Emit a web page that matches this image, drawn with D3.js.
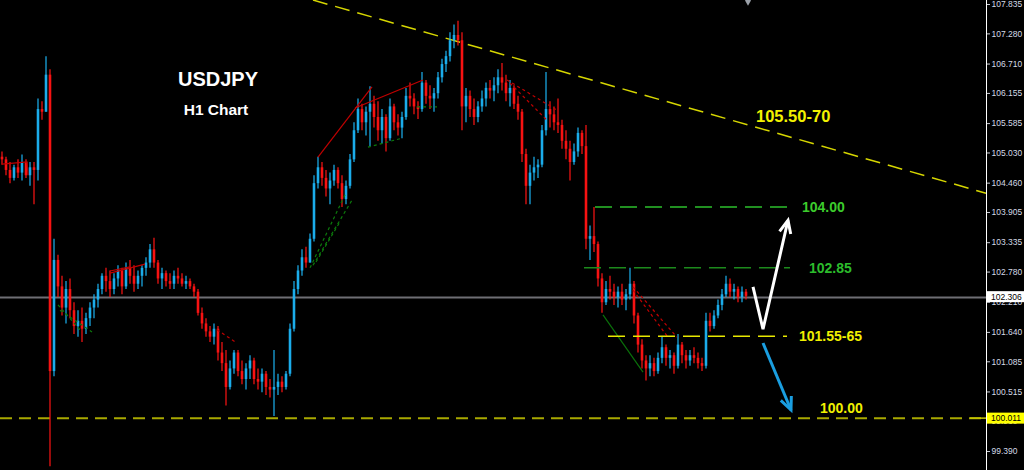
<!DOCTYPE html>
<html><head><meta charset="utf-8">
<script src="https://cdn.jsdelivr.net/npm/d3@7"></script>
<style>html,body{margin:0;padding:0;background:#000;overflow:hidden}</style>
</head><body>
<svg id="c" width="1024" height="470"></svg>
<script>
// ---------- DATA ----------
const firstOpen = 104.95;
const highs = [105.05,104.95,104.85,104.80,104.90,104.99,104.90,104.85,104.85,106.05,
106.00,106.85,106.60,103.40,103.10,102.70,102.60,102.65,102.20,102.05,
102.10,102.00,102.20,102.35,102.55,102.75,102.85,102.80,102.75,102.90,
102.85,102.95,103.00,102.90,102.80,102.90,103.05,103.30,103.42,103.00,
102.85,102.80,102.75,102.80,102.85,102.75,102.70,102.65,102.55,102.45,
102.10,101.90,101.75,101.80,101.75,101.45,101.30,101.10,101.30,101.30,
101.10,101.05,101.20,101.15,100.95,100.95,100.90,100.75,101.30,100.85,
100.80,100.90,101.80,102.60,102.90,103.20,103.25,103.50,104.60,104.95,
104.85,104.70,104.65,104.80,104.75,104.60,104.50,105.00,105.60,106.05,
105.95,105.90,106.28,106.10,106.00,105.85,105.75,106.05,105.95,105.75,
105.80,106.25,106.35,106.15,106.00,106.55,106.40,106.30,106.25,106.55,
106.80,106.95,107.30,107.45,107.52,107.30,106.25,106.20,106.05,106.00,
106.20,106.35,106.40,106.45,106.60,106.72,106.50,106.40,106.30,106.10,
105.85,105.10,104.80,104.95,104.90,105.55,106.55,106.00,105.90,106.05,
105.65,105.45,105.25,105.20,105.50,105.45,105.55,103.65,104.00,103.35,
102.75,102.60,102.70,102.55,102.50,102.55,102.45,102.85,102.60,102.00,
101.50,101.20,101.20,101.15,101.25,101.55,101.40,101.30,101.25,101.60,
101.45,101.30,101.30,101.35,101.25,101.15,102.00,102.00,102.05,102.25,
102.45,102.70,102.65,102.55,102.50,102.50,102.45];
const lows = [104.80,104.60,104.45,104.50,104.55,104.50,104.55,104.40,104.05,104.50,
105.65,105.90,99.10,100.80,102.30,101.95,101.80,101.90,101.60,101.55,
101.45,101.60,101.75,101.90,102.10,102.35,102.40,102.30,102.35,102.50,
102.35,102.45,102.55,102.40,102.45,102.50,102.70,102.85,102.85,102.55,
102.45,102.50,102.45,102.45,102.55,102.50,102.45,102.45,102.30,101.95,
101.70,101.55,101.45,101.40,101.10,100.90,100.25,100.55,100.85,100.80,
100.65,100.55,100.75,100.65,100.55,100.50,100.45,100.40,100.05,100.45,
100.50,100.55,100.80,101.65,102.35,102.70,102.85,102.95,103.35,104.35,
104.40,104.20,104.05,104.40,104.35,104.00,104.05,104.35,104.85,105.40,
105.45,105.35,105.15,105.50,105.25,105.20,105.05,105.25,105.45,105.35,
105.30,105.65,105.90,105.75,105.66,105.80,105.95,105.85,105.80,106.05,
106.35,106.55,106.75,107.00,107.05,105.45,105.60,105.70,105.55,105.60,
105.80,105.90,106.05,106.00,106.15,106.20,106.00,105.90,105.85,105.65,
104.85,104.05,104.05,104.50,104.55,104.75,105.35,105.50,105.45,105.40,
105.10,104.90,104.50,104.80,104.95,105.00,103.20,103.00,103.15,102.50,
102.00,102.15,102.25,102.15,102.10,102.15,102.05,102.25,101.80,101.25,
100.95,100.72,100.80,100.80,100.85,101.05,101.00,100.95,100.85,100.95,
101.05,100.95,101.00,101.05,100.95,100.90,100.95,101.65,101.70,101.90,
102.05,102.30,102.30,102.25,102.20,102.20,102.25];
const closes = [104.90,104.70,104.55,104.75,104.65,104.85,104.60,104.75,104.70,105.85,
105.80,106.50,100.90,103.00,102.50,102.10,102.45,102.05,101.75,101.85,
101.70,101.90,102.10,102.25,102.45,102.70,102.60,102.45,102.65,102.80,
102.50,102.85,102.70,102.55,102.70,102.85,102.95,103.20,102.95,102.65,
102.75,102.60,102.55,102.70,102.65,102.55,102.60,102.50,102.40,102.00,
101.80,101.65,101.55,101.70,101.25,101.05,100.60,100.95,101.25,100.90,
100.75,100.95,101.10,100.75,100.70,100.85,100.60,100.55,100.60,100.70,
100.60,100.85,101.70,102.45,102.80,103.05,102.95,103.40,104.45,104.75,
104.55,104.35,104.50,104.70,104.45,104.15,104.40,104.90,105.45,105.85,
105.60,105.80,105.95,105.70,105.45,105.70,105.30,105.90,105.60,105.50,
105.70,106.10,106.05,105.90,105.85,106.35,106.10,106.05,106.15,106.45,
106.70,106.85,107.15,107.25,107.15,105.90,106.10,105.85,105.70,105.90,
106.05,106.25,106.20,106.30,106.45,106.35,106.15,106.25,105.95,105.80,
105.00,104.40,104.65,104.75,104.80,105.45,105.85,105.75,105.60,105.55,
105.25,105.10,104.85,105.05,105.40,105.15,103.40,103.45,103.30,102.65,
102.20,102.45,102.40,102.30,102.40,102.25,102.35,102.55,101.95,101.40,
101.10,100.95,101.05,100.90,101.15,101.35,101.15,101.20,101.00,101.40,
101.20,101.10,101.20,101.15,101.05,101.00,101.85,101.75,101.95,102.15,
102.35,102.55,102.40,102.45,102.30,102.40,102.32];

const tickLabels = ["107.835","107.280","106.710","106.155","105.585","105.030","104.460","103.905",
  "103.335","102.780","102.210","101.640","101.085","100.515","99.960","99.390"];
const lastPrice = 102.306;
const supportPrice = 100.011;
const titleText = "USDJPY";
const subtitleText = "H1 Chart";

// resistance trend line [barIndex, price]
const trendLine = [[77.75, 107.91], [246, 104.26]];
const trendLabel = "105.50-70";
// horizontal levels: price, start bar, end bar, label
const levelPrices = [104.00, 102.85, 101.56];
const levelStarts = [148.25, 145.5, 151.5];
const levelEnds = [197, 197, 196.25];
const levelLabels = ["104.00", "102.85", "101.55-65"];
const supportLabel = "100.00";
// indicator lines [[bar, price], ...]
const redSolidLines = [
  [[0,104.81],[6.25,104.85],[6.5,104.60]],
  [[27,102.75],[35.75,102.92]],
  [[27,102.79],[32,102.87]],
  [[79,104.94],[92.5,106.27]],
  [[88.25,105.87],[105.25,106.40]]
];
const redDashedLines = [
  [[53.75,101.68],[58.75,101.43]],
  [[126.25,106.40],[138.75,105.83]],
  [[127,106.34],[136.25,105.64]],
  [[157.75,102.49],[168.75,101.54]],
  [[157.75,102.43],[166.5,101.54]]
];
const greenDashedLines = [
  [[14,102.15],[19.5,101.68]],
  [[14.5,102.05],[22.5,101.64]],
  [[77,102.85],[85.75,104.23]],
  [[77.75,102.90],[87.5,104.13]],
  [[78.5,102.96],[84.5,103.72]],
  [[91.5,105.13],[100,105.30]],
  [[103.75,105.89],[108.75,105.89]]
];
const greenSolidLines = [
  [[150.25,101.96],[160.25,100.88]]
];
// projection arrows
const upArrow = [[187.75,102.49],[190.25,101.69],[196.5,103.75]];
const downArrow = [[190.25,101.43],[197.25,100.165]];

// ---------- CHART ----------
const svg = d3.select("#c");
const W = 1024, H = 470, axisX = 986;
svg.append("rect").attr("width", W).attr("height", H).attr("fill", "#000");

const x = d3.scaleLinear().domain([0, 246]).range([2, axisX]);
const y = d3.scaleLinear().domain([99.39, 107.835]).range([451, 4]);
const line = d3.line().x(d => x(d[0])).y(d => y(d[1]));
const font = "'Liberation Sans', Arial, sans-serif";

// support / last price lines (behind candles)
svg.append("line").attr("x1", 0).attr("x2", axisX)
  .attr("y1", y(supportPrice)).attr("y2", y(supportPrice))
  .attr("stroke", "#a8a800").attr("stroke-width", 2).attr("stroke-dasharray", "12,7");
svg.append("line").attr("x1", 0).attr("x2", axisX)
  .attr("y1", Math.round(y(lastPrice)) + 0.5).attr("y2", Math.round(y(lastPrice)) + 0.5)
  .attr("stroke", "#6e6e74").attr("stroke-width", 2);

// trend line
svg.append("path").datum(trendLine).attr("d", line).attr("fill", "none")
  .attr("stroke", "#d6d600").attr("stroke-width", 1.5).attr("stroke-dasharray", "15,8");

// candles
const candles = closes.map((c, i) => {
  const o = i === 0 ? firstOpen : closes[i - 1];
  return {i, o, c, h: Math.max(highs[i], o, c), l: Math.min(lows[i], o, c)};
});
const UP = "#1cb2f2", DOWN = "#ff1414";
const cg = svg.append("g");
cg.selectAll("line.w").data(candles).join("line").attr("class", "w")
  .attr("x1", d => x(d.i)).attr("x2", d => x(d.i))
  .attr("y1", d => y(d.h)).attr("y2", d => y(d.l))
  .attr("stroke", d => d.c >= d.o ? UP : DOWN).attr("stroke-width", 1.2);
cg.selectAll("rect.b").data(candles).join("rect").attr("class", "b")
  .attr("x", d => x(d.i) - 1.3).attr("width", 2.6)
  .attr("y", d => y(Math.max(d.o, d.c)))
  .attr("height", d => Math.max(1, Math.abs(y(d.o) - y(d.c))))
  .attr("fill", d => d.c >= d.o ? UP : DOWN).attr("opacity", 0.92);

// indicator lines
const ig = svg.append("g").attr("fill", "none");
ig.selectAll("path.rs").data(redSolidLines).join("path").attr("class", "rs")
  .attr("d", line).attr("stroke", "#c00000").attr("stroke-width", 1.2);
ig.selectAll("path.rd").data(redDashedLines).join("path").attr("class", "rd")
  .attr("d", line).attr("stroke", "#c00000").attr("stroke-width", 1.2).attr("stroke-dasharray", "3,3");
ig.selectAll("path.gd").data(greenDashedLines).join("path").attr("class", "gd")
  .attr("d", line).attr("stroke", "#0c7a0c").attr("stroke-width", 1.2).attr("stroke-dasharray", "3,3");
ig.selectAll("path.gs").data(greenSolidLines).join("path").attr("class", "gs")
  .attr("d", line).attr("stroke", "#0a700a").attr("stroke-width", 1.2);

// horizontal levels
const levelColors = ["#2cc02c", "#1c8a1c", "#e8e800"];
const labelColors = ["#3ccc2c", "#2cbc2c", "#f0f000"];
const labelOffsets = [12, 19, 12];
levelPrices.forEach((p, k) => {
  svg.append("line").attr("x1", x(levelStarts[k])).attr("x2", x(levelEnds[k]))
    .attr("y1", y(p)).attr("y2", y(p))
    .attr("stroke", levelColors[k]).attr("stroke-width", 1.5).attr("stroke-dasharray", "17,8");
  svg.append("text").attr("x", x(levelEnds[k]) + labelOffsets[k]).attr("y", y(p) + 5)
    .attr("fill", labelColors[k]).attr("font-family", font).attr("font-weight", "bold")
    .attr("font-size", 14).text(levelLabels[k]);
});
svg.append("text").attr("x", x(204.5)).attr("y", y(supportPrice) - 5)
  .attr("fill", "#f0f000").attr("font-family", font).attr("font-weight", "bold")
  .attr("font-size", 14).text(supportLabel);
svg.append("text").attr("x", x(188.5)).attr("y", y(105.60))
  .attr("fill", "#f2f200").attr("font-family", font).attr("font-weight", "bold")
  .attr("font-size", 16.5).text(trendLabel);

// arrows
function arrowHead(pts) {
  const a = pts[pts.length - 2], b = pts[pts.length - 1];
  const ax = x(a[0]), ay = y(a[1]), bx = x(b[0]), by = y(b[1]);
  const ang = Math.atan2(by - ay, bx - ax), L = 14, s = 0.42;
  return [[bx - L * Math.cos(ang - s), by - L * Math.sin(ang - s)], [bx, by],
          [bx - L * Math.cos(ang + s), by - L * Math.sin(ang + s)]];
}
const px = d3.line();
svg.append("path").datum(upArrow).attr("d", line).attr("fill", "none")
  .attr("stroke", "#ffffff").attr("stroke-width", 3);
svg.append("path").attr("d", px(arrowHead(upArrow))).attr("fill", "none")
  .attr("stroke", "#ffffff").attr("stroke-width", 3);
svg.append("path").datum(downArrow).attr("d", line).attr("fill", "none")
  .attr("stroke", "#1a9ee0").attr("stroke-width", 3);
svg.append("path").attr("d", px(arrowHead(downArrow))).attr("fill", "none")
  .attr("stroke", "#1a9ee0").attr("stroke-width", 3);

// small marker at top
svg.append("path").attr("d", d3.symbol(d3.symbolDiamond, 30)())
  .attr("transform", `translate(${x(186.5)},${y(107.9)})`).attr("fill", "#9aa0a8");

// title
svg.append("text").attr("x", 218).attr("y", 86).attr("text-anchor", "middle")
  .attr("fill", "#fff").attr("font-family", font).attr("font-weight", "bold")
  .attr("font-size", 20).text(titleText);
svg.append("text").attr("x", 216).attr("y", 115).attr("text-anchor", "middle")
  .attr("fill", "#fff").attr("font-family", font).attr("font-weight", "bold")
  .attr("font-size", 15.5).text(subtitleText);

// right price axis
const ag = svg.append("g").attr("transform", `translate(${axisX},0)`)
  .call(d3.axisRight(y).tickValues(tickLabels.map(Number)).tickSize(4).tickPadding(1.5)
    .tickFormat((d, i) => tickLabels[i]));
ag.select(".domain").remove();
ag.selectAll(".tick line").attr("stroke", "#c8ccd4");
ag.selectAll(".tick text").attr("fill", "#d4dae6").attr("font-family", font).attr("font-size", 8.5);
svg.append("line").attr("x1", axisX + 0.5).attr("x2", axisX + 0.5).attr("y1", 0).attr("y2", H)
  .attr("stroke", "#ffffff").attr("stroke-width", 1);

// price boxes
function priceBox(p, bg) {
  const yy = y(p);
  svg.append("rect").attr("x", axisX + 1).attr("y", yy - 5.5).attr("width", W - axisX - 1).attr("height", 11)
    .attr("fill", bg);
  svg.append("text").attr("x", axisX + 5).attr("y", yy + 3.2).attr("fill", "#000")
    .attr("font-family", font).attr("font-size", 8.5).text(p.toFixed(3));
}
svg.append("line").attr("x1", axisX - 16).attr("x2", axisX).attr("y1", y(supportPrice)).attr("y2", y(supportPrice))
  .attr("stroke", "#c8c800").attr("stroke-width", 1.5);
priceBox(lastPrice, "#ffffff");
priceBox(supportPrice, "#ffff00");
</script>
</body></html>
